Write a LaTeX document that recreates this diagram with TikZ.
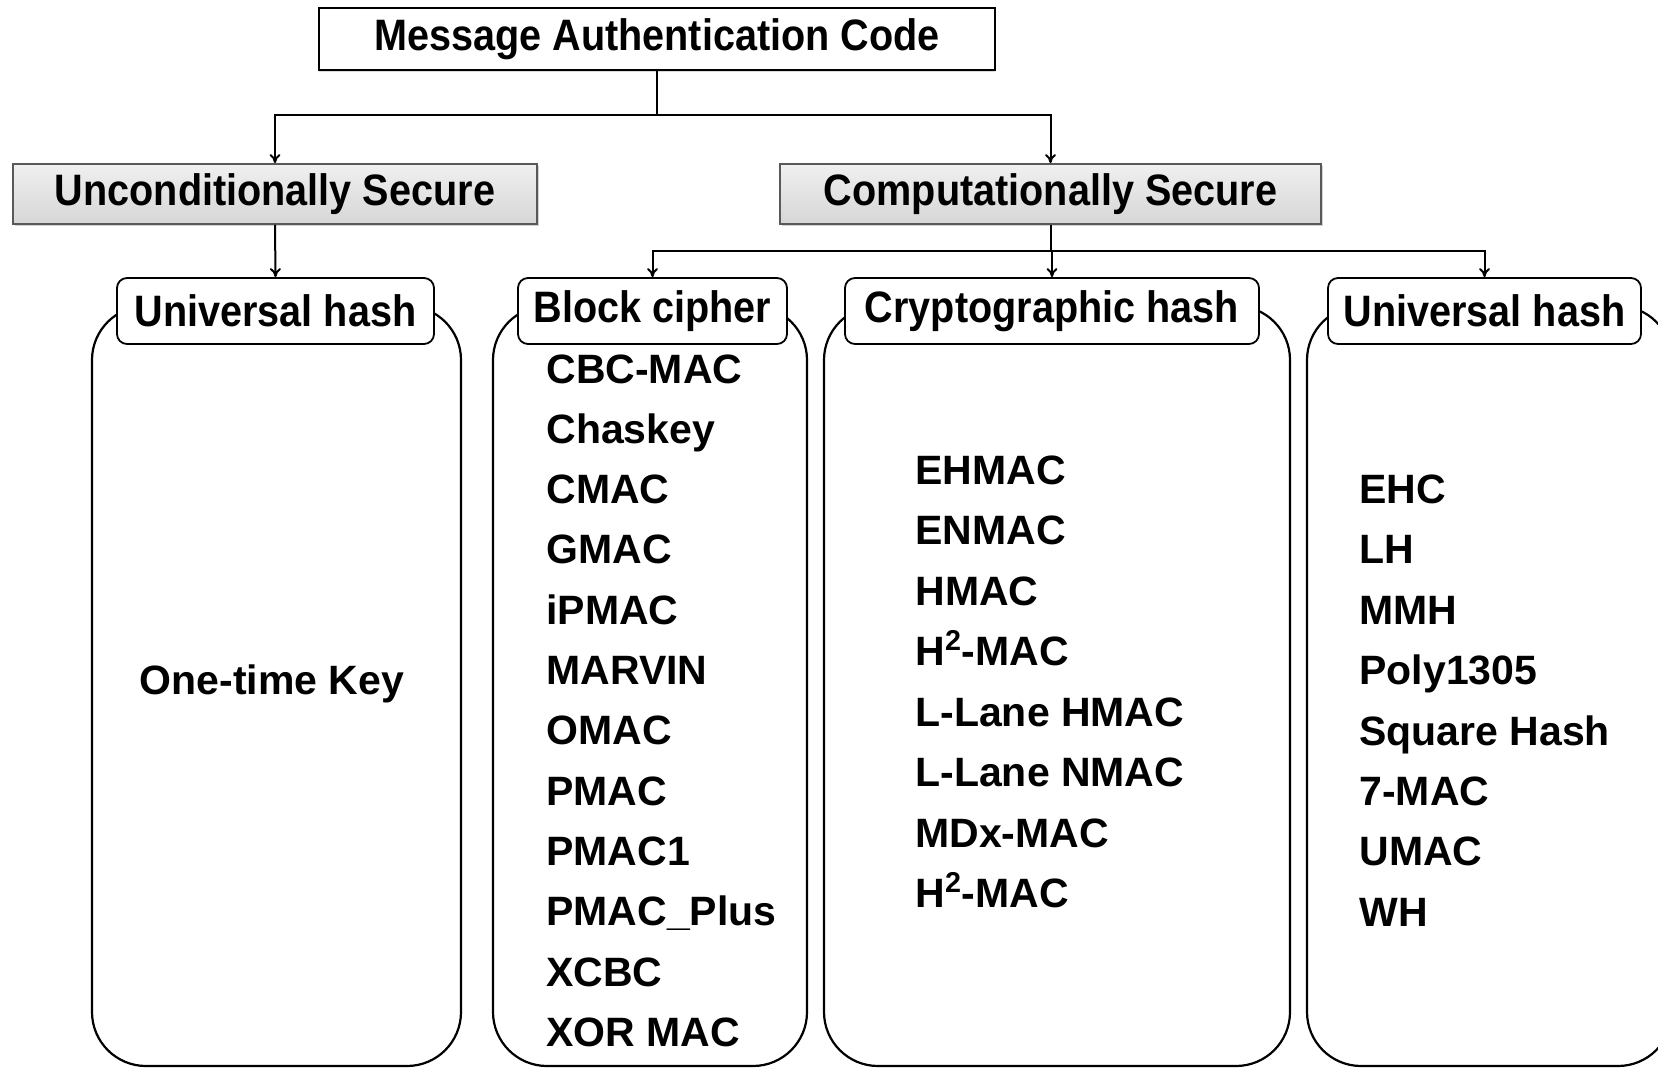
\documentclass[tikz,border=0pt]{standalone}
\usepackage{fontspec}
\setmainfont{Liberation Sans}
\newfontfamily\headfont[FakeStretch=0.9]{Liberation Sans}
\usetikzlibrary{arrows.meta,shadows}
\begin{document}
\begin{tikzpicture}[x=0.5pt,y=-0.5pt,
  headbox/.style={draw=black,line width=1.1pt,fill=white,inner sep=0pt,
    drop shadow={opacity=0.3,shadow xshift=0pt,shadow yshift=-1.2pt},
    font=\headfont\bfseries\fontsize{22}{26}\selectfont},
  graybox/.style={draw=gray!70!black,line width=0.9pt,inner sep=0pt,
    top color=gray!12,bottom color=gray!32,
    drop shadow={opacity=0.35,shadow xshift=1.2pt,shadow yshift=-1.2pt},
    font=\headfont\bfseries\fontsize{22}{26}\selectfont},
  labelbox/.style={draw=black,line width=0.9pt,fill=white,rounded corners=5pt,
    inner sep=0pt,minimum height=33pt,font=\headfont\bfseries\fontsize{22}{26}\selectfont},
  bigbox/.style={draw=black,line width=1.1pt,rounded corners=27pt,inner sep=0pt,
    minimum height=380pt},
  itemtxt/.style={font=\bfseries\fontsize{20.5}{24}\selectfont,inner sep=0pt,anchor=base west},
  conn/.style={draw=black,line width=1pt},
  arr/.style={conn,-{To[length=4.5pt,width=5.5pt]}}
]
\useasboundingbox (0,0) rectangle (1658,1069);

% top level
\node[headbox,minimum width=338pt,minimum height=31pt] (mac) at (657,39) {Message Authentication Code};
\node[graybox,minimum width=262pt,minimum height=30pt] (uncond) at (275,194) {Unconditionally Secure};
\node[graybox,minimum width=270.5pt,minimum height=30pt] (comp) at (1050.5,194) {Computationally Secure};

% big containers
\node[bigbox,minimum width=184.5pt] (lbox) at (276.5,686) {};
\node[bigbox,minimum width=157pt] (bbox) at (650,686) {};
\node[bigbox,minimum width=233pt] (cbox) at (1057,686) {};
\node[bigbox,minimum width=182.5pt] (rbox) at (1489.5,686) {};

% labels
\node[labelbox,minimum width=158.5pt] (uhl) at (275.5,311) {Universal hash};
\node[labelbox,minimum width=134.5pt] (bcl) at (652.5,311) {Block cipher};
\node[labelbox,minimum width=207pt] (chl) at (1052,311) {Cryptographic hash};
\node[labelbox,minimum width=156.5pt] (uhr) at (1484.5,311) {Universal hash};

% connectors
\coordinate (j1) at (657,115);
\coordinate (j2) at (1050.5,251);
\draw[conn] (mac.south) -- (j1);
\draw[arr] (j1) -| (uncond.north);
\draw[arr] (j1) -| (comp.north);
\draw[arr] (uncond.south) -- (uhl.north);
\draw[conn] (comp.south) -- (j2);
\draw[arr] (j2) -| (bcl.north);
\draw[arr] (j2) -| (chl.north);
\draw[arr] (j2) -| (uhr.north);

% contents
\node[font=\bfseries\fontsize{20.5}{24}\selectfont,inner sep=0pt] (otk) at (272,684) {One-time Key};

\foreach \t [count=\i] in {CBC-MAC,Chaskey,CMAC,GMAC,iPMAC,MARVIN,OMAC,PMAC,PMAC1,PMAC\_Plus,XCBC,XOR MAC}
  \node[itemtxt] (bc\i) at (546,{368+60.3*(\i-1)+15}) {\t};

\foreach \t [count=\i] in {EHMAC,ENMAC,HMAC,{H\textsuperscript{2}-MAC},L-Lane HMAC,L-Lane NMAC,MDx-MAC,{H\textsuperscript{2}-MAC}}
  \node[itemtxt] (ch\i) at (915,{469+60.5*(\i-1)+15}) {\t};

\foreach \t [count=\i] in {EHC,LH,MMH,Poly1305,Square Hash,7-MAC,UMAC,WH}
  \node[itemtxt] (uh\i) at (1359,{488.5+60.4*(\i-1)+15}) {\t};
\end{tikzpicture}
\end{document}
